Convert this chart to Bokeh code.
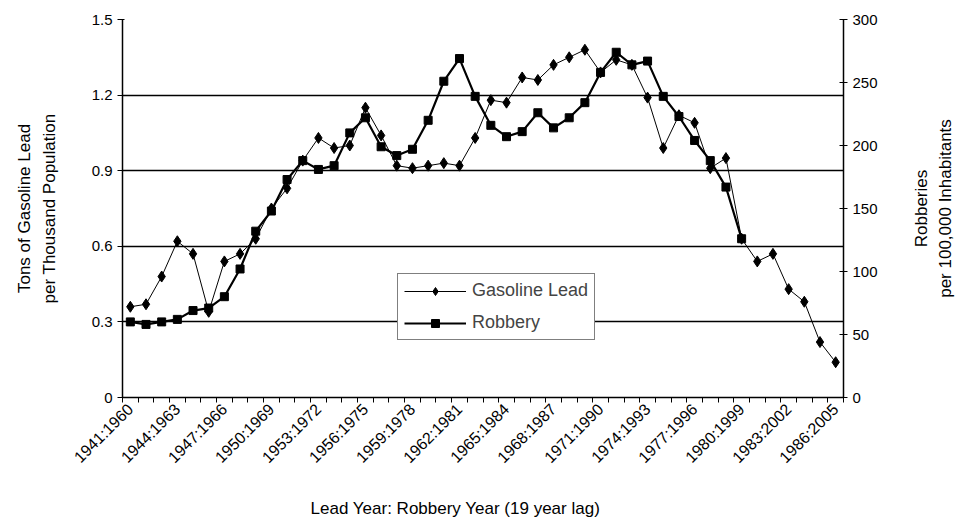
import math
from bokeh.plotting import figure
from bokeh.models import (Range1d, LinearAxis, FixedTicker, Legend, LegendItem, Label)
from bokeh.embed import file_html
from bokeh.resources import INLINE

# ---------------- data ----------------
categories = [
    "1941:1960", "1942:1961", "1943:1962", "1944:1963", "1945:1964", "1946:1965",
    "1947:1966", "1948:1967", "1949:1968", "1950:1969", "1951:1970", "1952:1971",
    "1953:1972", "1954:1973", "1955:1974", "1956:1975", "1957:1976", "1958:1977",
    "1959:1978", "1960:1979", "1961:1980", "1962:1981", "1963:1982", "1964:1983",
    "1965:1984", "1966:1985", "1967:1986", "1968:1987", "1969:1988", "1970:1989",
    "1971:1990", "1972:1991", "1973:1992", "1974:1993", "1975:1994", "1976:1995",
    "1977:1996", "1978:1997", "1979:1998", "1980:1999", "1981:2000", "1982:2001",
    "1983:2002", "1984:2003", "1985:2004", "1986:2005",
]

# Tons of gasoline lead per thousand population (left axis)
gasoline_lead = [
    0.36, 0.37, 0.48, 0.62, 0.57, 0.34, 0.54, 0.57, 0.63, 0.75, 0.83, 0.94,
    1.03, 0.99, 1.00, 1.15, 1.04, 0.92, 0.91, 0.92, 0.93, 0.92, 1.03, 1.18,
    1.17, 1.27, 1.26, 1.32, 1.35, 1.38, 1.29, 1.34, 1.32, 1.19, 0.99, 1.12,
    1.09, 0.91, 0.95, 0.63, 0.54, 0.57, 0.43, 0.38, 0.22, 0.14,
]

# Robberies per 100,000 inhabitants (right axis)
robbery = [
    60, 58, 60, 62, 69, 71, 80, 102, 132, 148, 173, 188, 181, 184, 210, 222,
    199, 192, 197, 220, 251, 269, 239, 216, 207, 211, 226, 214, 222, 234, 258,
    274, 264, 267, 239, 223, 204, 188, 167, 126,
]

left_ticks = [0, 0.3, 0.6, 0.9, 1.2, 1.5]
right_ticks = [0, 50, 100, 150, 200, 250, 300]
label_step = 3

left_title = "Tons of Gasoline Lead\nper Thousand Population"
right_title = "Robberies\nper 100,000 Inhabitants"
x_title = "Lead Year: Robbery Year (19 year lag)"

FONT = "Liberation Sans"

x_lead = list(range(len(gasoline_lead)))
x_rob = list(range(len(robbery)))
n = len(categories)

p = figure(width=958, height=527, output_backend="svg", toolbar_location=None,
           x_range=Range1d(-0.5, n - 0.5), y_range=Range1d(left_ticks[0], left_ticks[-1]),
           min_border_left=122, min_border_right=115, min_border_top=19,
           min_border_bottom=130)
p.extra_y_ranges = {"rob": Range1d(right_ticks[0], right_ticks[-1])}
p.outline_line_color = None
p.background_fill_color = "white"
p.border_fill_color = "white"

# x axis
xa = p.xaxis[0]
xa.ticker = FixedTicker(ticks=list(range(0, n, label_step)),
                        minor_ticks=[i - 0.5 for i in range(n + 1)])
xa.major_label_overrides = {i: categories[i] for i in range(0, n, label_step)}
xa.major_label_orientation = math.pi / 4
xa.major_tick_in = 0
xa.major_tick_out = 0
xa.minor_tick_in = 0
xa.minor_tick_out = 5
xa.minor_tick_line_color = "black"
xa.major_label_standoff = 4

# left axis
ya = p.yaxis[0]
ya.ticker = FixedTicker(ticks=left_ticks)
ya.major_label_overrides = {t: f"{t:g}" for t in left_ticks}
ya.major_tick_in = 2
ya.major_tick_out = 5
ya.minor_tick_line_color = None
ya.axis_label = left_title
ya.axis_label_standoff = 30

# right axis
ra = LinearAxis(y_range_name="rob", ticker=FixedTicker(ticks=right_ticks))
ra.major_tick_in = 4
ra.major_tick_out = 4
ra.minor_tick_line_color = None
p.add_layout(ra, "right")

for ax in (xa, ya, ra):
    ax.axis_line_color = "black"
    ax.axis_line_width = 1.5
    ax.major_tick_line_color = "black"
    ax.major_label_text_font = FONT
    ax.major_label_text_font_size = "15px"
    ax.major_label_text_color = "black"
    ax.axis_label_text_font = FONT
    ax.axis_label_text_font_size = "17px"
    ax.axis_label_text_font_style = "normal"
    ax.axis_label_text_color = "black"
    ax.axis_label_text_line_height = 1.3
xa.major_label_text_font_size = "16px"

# right axis title (reads bottom-to-top like the left one), in canvas px
p.add_layout(Label(x=933, y=208, x_units="canvas", y_units="canvas", text=right_title,
                   angle=math.pi / 2, text_align="center", text_baseline="middle",
                   text_font=FONT, text_font_size="17px", text_color="black",
                   text_line_height=1.3), "right")

# x axis title, placed as in the original (slightly left of centre)
p.add_layout(Label(x=455, y=508, x_units="canvas", y_units="canvas", text=x_title,
                   text_align="center", text_baseline="middle",
                   text_font=FONT, text_font_size="17px", text_color="black"), "below")

# grid
p.xgrid.visible = False
p.ygrid.ticker = FixedTicker(ticks=left_ticks[1:])
p.ygrid.grid_line_color = "black"
p.ygrid.grid_line_width = 1.4

# series
l1 = p.line(x_lead, gasoline_lead, line_color="black", line_width=1)
s1 = p.scatter(x_lead, gasoline_lead, marker="diamond", size=11,
               fill_color="black", line_color="black", line_width=1)
l2 = p.line(x_rob, robbery, y_range_name="rob", line_color="black", line_width=2.2)
s2 = p.scatter(x_rob, robbery, y_range_name="rob", marker="square", size=8,
               fill_color="black", line_color="black")

legend = Legend(items=[LegendItem(label="Gasoline Lead", renderers=[l1, s1]),
                       LegendItem(label="Robbery", renderers=[l2, s2])],
                location=(275, 57), margin=0, padding=6, spacing=11,
                glyph_width=62, glyph_height=20, label_height=20, label_standoff=6,
                label_text_font=FONT, label_text_font_size="18px",
                border_line_color="black", border_line_width=1,
                background_fill_color="white", background_fill_alpha=1.0)
p.add_layout(legend)

open("out.html", "w").write(file_html(p, INLINE))
